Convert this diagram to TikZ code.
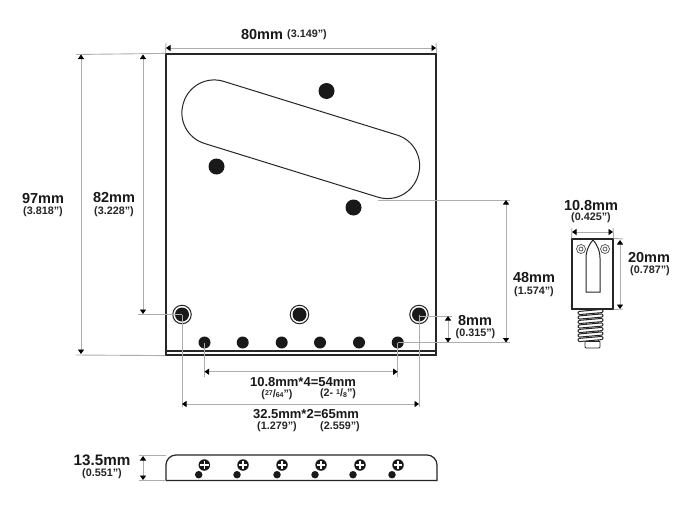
\documentclass[tikz,border=0pt]{standalone}
\usepackage{fontspec}
\setmainfont{Liberation Sans}
\usetikzlibrary{arrows.meta,positioning,calc}
\newcommand{\supfrac}[2]{\raisebox{2.2pt}{\fontsize{7}{7}\selectfont #1}/\raisebox{-0.6pt}{\fontsize{7}{7}\selectfont #2}}

\begin{document}
\begin{tikzpicture}[
    x=1pt, y=-1pt,
    part/.style={draw=black!85, line width=1.2pt},
    hole/.style={circle, fill=black!90, inner sep=0pt, minimum size=#1},
    stud/.style={circle, draw=black!85, fill=white, line width=1pt, inner sep=0pt, minimum size=18.5pt},
    ext/.style={draw=black!32, line width=0.9pt},
    dim/.style={draw=black!32, line width=0.9pt, {Stealth[length=4.5pt,width=6pt,inset=0pt,black]}-{Stealth[length=4.5pt,width=6pt,inset=0pt,black]}},
    mm/.style={font=\fontsize{14.5}{15}\selectfont\bfseries, inner sep=0pt, text=black!90},
    mmwide/.style={font=\fontsize{13}{14}\selectfont\bfseries, inner sep=0pt, text=black!90},
    inch/.style={font=\fontsize{10.8}{11}\selectfont\bfseries, inner sep=0pt, text=black!85},
    coil/.style={draw=black!85, fill=white, line width=1pt, rounded corners=1.2pt, minimum width=25pt, minimum height=3.2pt, inner sep=0pt, rotate=5}
]
    \useasboundingbox (0,0) rectangle (690,522);
    \fill[white] (0,0) rectangle (690,522);

    % plate
    \node[part, inner sep=0pt, minimum width=270pt, minimum height=301pt] (plate) at (301,204.5) {};
    \coordinate (lipl) at (166,351);
    \coordinate (lipr) at (436,351);
    \draw[part] (lipl) -- (lipr);
    \node[part, line width=1pt, rounded corners=32pt, inner sep=0pt, minimum width=245.6pt, minimum height=65pt, rotate=-17.2] (slot) at (300.75,139.25) {};
    \node[hole=16pt] (ha) at (326.5,91) {};
    \node[hole=16pt] (hb) at (216.5,166.5) {};
    \node[hole=16pt] (hc) at (353.5,207.5) {};

    % studs
    \foreach \name/\xpos in {sa/182, sb/299.5, sc/419} {
        \node[stud] (\name) at (\xpos,314.5) {};
        \node[hole=14pt] at (\name) {};
    }
    % string holes
    \foreach \name/\xpos in {ta/204.5, tb/242.7, tc/281.7, td/320, te/359, tf/397.7}
        \node[hole=12pt] (\name) at (\xpos,342.5) {};

    % extension lines
    \coordinate (wl) at (166,48);
    \coordinate (wr) at (436,48);
    \coordinate (wlt) at (166,43);
    \coordinate (wrt) at (436,43);
    \draw[ext] (wlt) -- (plate.north west);
    \draw[ext] (wrt) -- (plate.north east);
    \draw[dim] (wl) -- (wr);

    \coordinate (ha97) at (76,54.5);
    \coordinate (hb97) at (76,355);
    \coordinate (ua97) at (81,54.5);
    \coordinate (ub97) at (81,354);
    \draw[ext] (ha97) -- (plate.north west);
    \draw[ext] (hb97) -- (plate.south west);
    \draw[dim] (ua97) -- (ub97);

    \coordinate (a82) at (143,54.5);
    \coordinate (b82) at (143,314);
    \coordinate (e82) at (138,314.5);
    \draw[ext] (e82) -- (sa.center);
    \draw[dim] (a82) -- (b82);

    \coordinate (t48) at (378,200);
    \coordinate (e48) at (510,200);
    \coordinate (f48) at (510,342.5);
    \coordinate (a48) at (506,200);
    \coordinate (b48) at (506,342.5);
    \draw[ext] (t48) -- (e48);
    \draw[ext] (tf.center) -- (f48);
    \draw[dim] (a48) -- (b48);

    \coordinate (e8) at (452,316);
    \coordinate (a8) at (448,316);
    \coordinate (b8) at (448,342.5);
    \draw[ext] (sc.center) |- (e8);
    \draw[dim] (a8) -- (b8);

    \coordinate (ea) at (204.5,377);
    \coordinate (eb) at (397.7,377);
    \coordinate (da) at (204.5,371.7);
    \coordinate (db) at (397.7,371.7);
    \draw[ext] (ta.center) -- (ea);
    \draw[ext] (tf.center) -- (eb);
    \draw[dim] (da) -- (db);

    \coordinate (fa) at (182,407);
    \coordinate (fb) at (419,407);
    \coordinate (ga) at (182,404);
    \coordinate (gb) at (419,404);
    \draw[ext] (sa.center) -- (fa);
    \draw[ext] (sc.center) -- (fb);
    \draw[dim] (ga) -- (gb);

    % bottom bar
    \draw[part] (166,480.5) -- (166,465) arc[start angle=180, end angle=270, radius=10] -- (427,455) arc[start angle=270, end angle=360, radius=10] -- (437,480.5) -- cycle;
    \foreach \name/\xs/\xd in {a/204.3/198.7, b/243/237, c/282/277, d/321/315, e/360/353, f/398/392} {
        \node[hole=11.5pt] (scr\name) at (\xs,465) {};
        \draw[white, line width=1.2pt] ($(scr\name)+(-4.2,0)$) -- ($(scr\name)+(4.2,0)$);
        \draw[white, line width=1.2pt] ($(scr\name)+(0,-4.2)$) -- ($(scr\name)+(0,4.2)$);
        \node[hole=7.5pt] (dot\name) at (\xd,474.7) {};
    }
    \coordinate (ba) at (139,455);
    \coordinate (bb) at (139,480.5);
    \coordinate (bc) at (166,455);
    \coordinate (bd) at (166,480.5);
    \coordinate (ca) at (143,456);
    \coordinate (cb) at (143,480);
    \draw[ext] (ba) -- (bc);
    \draw[ext] (bb) -- (bd);
    \draw[dim] (ca) -- (cb);

    % saddle
    \node[draw=black!85, fill=white, line width=0.9pt, inner sep=0pt, minimum width=15pt, minimum height=7pt, rounded corners=1pt] (tail) at (592.5,344.5) {};
    \draw[part, line width=0.9pt, fill=white] (586,309) rectangle (598,341);
    \foreach \ypos in {312,316.5,321,325.5,330,334.5,339}
        \node[coil] at (590.5,\ypos) {};
    \node[part, fill=white, inner sep=0pt, minimum width=41pt, minimum height=70pt] (saddle) at (592.5,274) {};
    \draw[part, line width=1pt] (586,292) -- (586,258) .. controls (586,250) and (590,243) .. (593,240) .. controls (596,243) and (600,250) .. (600,258) -- (600,292) -- cycle;
    \foreach \name/\xpos in {ma/581, mb/605} {
        \node[circle, draw=black!70, line width=0.7pt, minimum size=9pt, inner sep=0pt] (\name) at (\xpos,249) {};
        \node[circle, draw=black!70, line width=0.7pt, minimum size=4pt, inner sep=0pt] at (\name) {};
    }
    \coordinate (sl) at (572,228);
    \coordinate (sr) at (613,228);
    \coordinate (sa10) at (572,232);
    \coordinate (sb10) at (613,232);
    \draw[ext] (sl) -- (saddle.north west);
    \draw[ext] (sr) -- (saddle.north east);
    \draw[dim] (sa10) -- (sb10);
    \coordinate (st) at (623,239);
    \coordinate (sd) at (623,309);
    \coordinate (ua) at (620,240);
    \coordinate (ub) at (620,309);
    \draw[ext] (saddle.north east) -- (st);
    \draw[ext] (saddle.south east) -- (sd);
    \draw[dim] (ua) -- (ub);

    % labels
    \node[mm] (l80) at (262,35) {80mm};
    \node[inch] (l80i) at (307,34.5) {(3.149”)};
    \node[mm] (l97) at (43,199) {97mm};
    \node[inch] (l97i) at (43,212) {(3.818”)};
    \node[mm] (l82) at (114,198) {82mm};
    \node[inch] (l82i) at (114,212) {(3.228”)};
    \node[mm] (l48) at (534,278) {48mm};
    \node[inch] (l48i) at (534,292) {(1.574”)};
    \node[mm] (l8) at (475,321) {8mm};
    \node[inch] (l8i) at (475.5,333.5) {(0.315”)};
    \node[mmwide] (l54) at (303,382) {10.8mm*4=54mm};
    \node[inch] (l54a) at (277,394.5) {(\supfrac{27}{64}”)};
    \node[inch] (l54b) at (338,394) {(2- \supfrac{1}{8}”)};
    \node[mmwide] (l65) at (306,414) {32.5mm*2=65mm};
    \node[inch] (l65a) at (277,427) {(1.279”)};
    \node[inch] (l65b) at (340,427) {(2.559”)};
    \node[mm] (l108) at (591,205.5) {10.8mm};
    \node[inch] (l108i) at (591,218) {(0.425”)};
    \node[mm] (l20) at (649,258) {20mm};
    \node[inch] (l20i) at (650,270.5) {(0.787”)};
    \node[mm, font=\fontsize{15.2}{16}\selectfont\bfseries] (l135) at (102,460) {13.5mm};
    \node[inch] (l135i) at (102,473.5) {(0.551”)};
\end{tikzpicture}
\end{document}
